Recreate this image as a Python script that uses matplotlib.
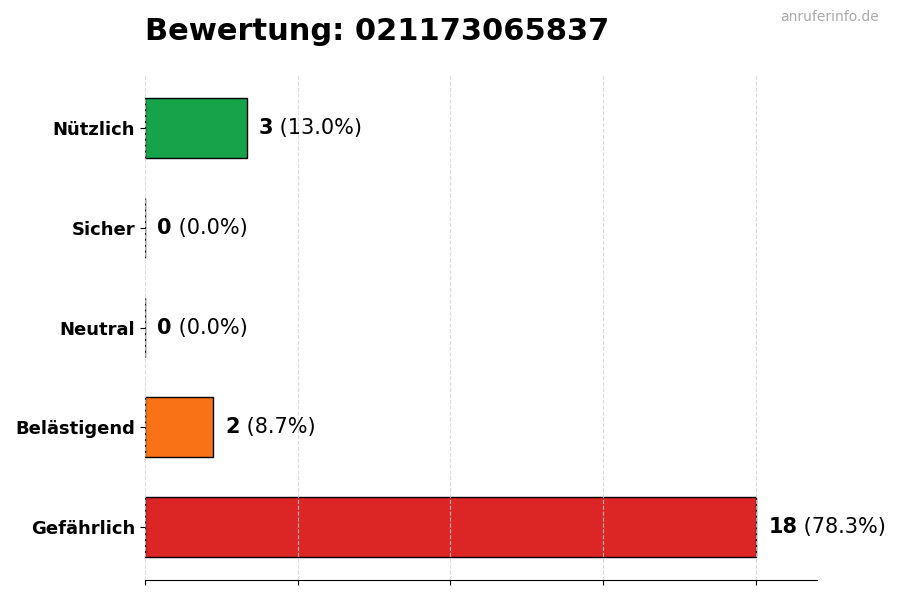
import matplotlib
matplotlib.use("Agg")
import matplotlib.pyplot as plt

categories = ["Gefährlich", "Belästigend", "Neutral", "Sicher", "Nützlich"]
counts = [18, 2, 0, 0, 3]
colors = ["#dc2626", "#f97316", "#9ca3af", "#22c55e", "#16a34a"]
xticks = [0, 4.5, 9, 13.5, 18]
total = sum(counts)

fig = plt.figure(figsize=(9, 6), dpi=100)
ax = fig.add_axes([0.161, 0.0333, 0.747, 0.8417])

ypos = list(range(len(categories)))
ax.barh(ypos, counts, height=0.6, color=colors, edgecolor="black", linewidth=1)
ax.set_yticks(ypos)
ax.set_yticklabels(categories, fontsize=13, fontweight="bold")
ax.set_xlim(0, max(counts) * 1.1)
ax.set_xticks(xticks)
ax.set_xticklabels([])

for y, c in zip(ypos, counts):
    pct = c / total * 100
    t = ax.annotate(f"{c}", xy=(c + max(counts) * 0.02, y), va="center", ha="left",
                    fontsize=15, fontweight="bold")
    ax.annotate(f" ({pct:.1f}%)", xy=(1, 0.5), xycoords=t, va="center", ha="left",
                fontsize=15)

ax.grid(axis="x", linestyle="--", color="#d4d4d4", alpha=0.8)
ax.grid(axis="y", visible=False)
for s in ["top", "right", "left"]:
    ax.spines[s].set_visible(False)

ax.set_title("Bewertung: 021173065837", loc="left", fontsize=22, fontweight="bold", pad=25)
fig.text(0.976, 0.972, "anruferinfo.de", ha="right", va="center", fontsize=10, color="#aaaaaa")

fig.savefig("out.png", dpi=100)
